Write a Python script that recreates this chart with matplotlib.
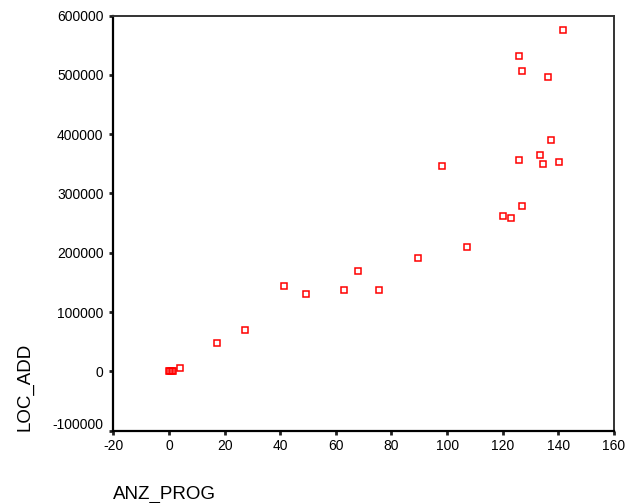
import matplotlib
matplotlib.use("Agg")
import matplotlib.pyplot as plt
from matplotlib.transforms import ScaledTranslation

anz_prog = [141.5, 126.0, 127.0, 136.4, 137.4, 133.4, 126.0, 134.5, 140.4, 98.3,
            127.0, 120.1, 122.9, 107.0, 89.4, 67.9, 41.2, 49.1, 63.0, 75.4,
            27.4, 17.4, 4.0, 0.0, 0.5, 1.0, 1.5]
loc_add = [576000, 532000, 506000, 497000, 390000, 364000, 357000, 350000, 353000, 346000,
           279000, 262000, 258000, 209000, 192000, 170000, 144000, 130000, 137000, 137000,
           70000, 48600, 6200, 1000, 1000, 1000, 1000]

x_ticks = [-20, 0, 20, 40, 60, 80, 100, 120, 140, 160]
y_ticks = [-100000, 0, 100000, 200000, 300000, 400000, 500000, 600000]

plt.rcParams['font.family'] = ['Liberation Sans', 'DejaVu Sans']

W, H = 643, 503
fig = plt.figure(figsize=(W/100, H/100), dpi=100)
ax = fig.add_axes([113.3/W, 1-430.7/H, (614-113.3)/W, (430.7-15.5)/H])

ax.plot(anz_prog, loc_add, linestyle='none', marker='s', markersize=4.6,
        markerfacecolor='none', markeredgecolor='#ff0000', markeredgewidth=1.1)

ax.set_xlim(-20, 160)
ax.set_ylim(-100000, 600000)
ax.set_xticks(x_ticks)
ax.set_yticks(y_ticks)
ax.set_xticklabels([str(v) for v in x_ticks])
ax.set_yticklabels([str(v) for v in y_ticks])
ax.tick_params(direction='out', length=3, width=2, labelsize=10, color='#222222')
ax.tick_params(axis='y', pad=4)
ax.tick_params(axis='x', pad=3)

# bottom y label sits slightly above its tick
lbl = ax.get_yticklabels()[0]
lbl.set_transform(lbl.get_transform() + ScaledTranslation(0, 7/100, fig.dpi_scale_trans))

for s in ['left', 'bottom']:
    ax.spines[s].set_linewidth(1.6)
    ax.spines[s].set_color('black')
for s in ['top', 'right']:
    ax.spines[s].set_linewidth(1.4)
    ax.spines[s].set_color('#333333')

fig.text(113.3/W, 1-494/H, 'ANZ_PROG', fontsize=13.5, ha='left', va='center')
fig.text(24.5/W, 1-386.5/H, 'LOC_ADD', fontsize=13.5, ha='center', va='center', rotation=90)

fig.savefig('out.png', dpi=100)
